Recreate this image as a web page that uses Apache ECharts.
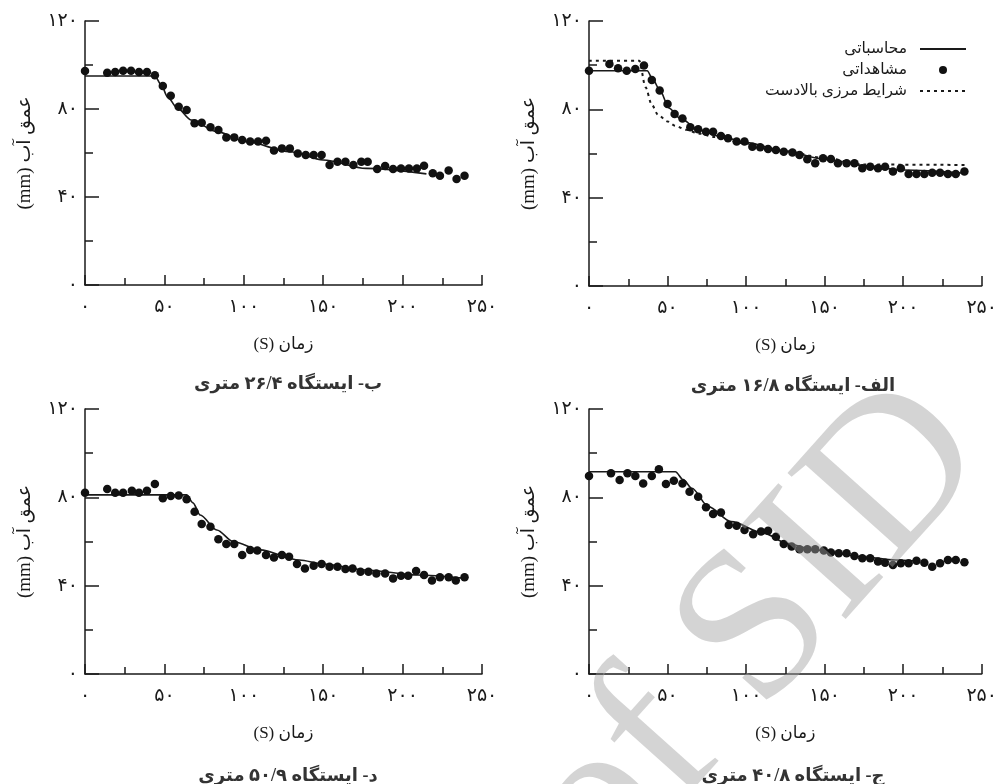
<!DOCTYPE html>
<html lang="fa">
<head>
<meta charset="UTF-8">
<title>عمق آب</title>
<script src="https://cdn.jsdelivr.net/npm/echarts@6/dist/echarts.min.js"></script>
</head>
<body style="margin:0;background:#fff">
<div id="main" style="width:1000px;height:784px"></div>
<script>
// tick labels (Persian digits)
let xTickLabels = ['۰', '۵۰', '۱۰۰', '۱۵۰', '۲۰۰', '۲۵۰'];
let yTickLabels = ['۰', '۴۰', '۸۰', '۱۲۰'];
let legendNames = ['محاسباتی', 'مشاهداتی', 'شرایط مرزی بالادست'];
let panelNames = ['ب- ایستگاه ۲۶/۴ متری', 'الف- ایستگاه ۱۶/۸ متری', 'د- ایستگاه ۵۰/۹ متری', 'ج- ایستگاه ۴۰/۸ متری'];

// ب - station 26.4 m
let obsT_B = [0,14,19,24,29,34,39,44,49,54,59,64,69,73.5,79,84,89,94,99,104,109,114,119,124,129,134,139,144,149,154,159,164,169,174,178,184,189,194,199,204,209,213.5,219,223.5,229,234,239];
let obsD_B = [97.3,96.5,96.8,97.4,97.4,96.8,96.8,95.3,90.5,86,81,79.5,73.5,73.8,71.7,70.5,67.1,67.1,65.9,65.2,65.2,65.6,61.1,62.1,62.1,59.8,59.1,59.1,59.1,54.5,56,56,54.5,56,56,52.7,54.1,52.7,53,53,53,54.2,50.8,49.7,52,48.2,49.7];
let simT_B = [0,44,48,52,58,67,83,101,129,150,177,215];
let simD_B = [95,95,91,85.5,80.5,75,69.7,65.2,60.6,56.8,53,50.5];

// الف - station 16.8 m
let obsT_A = [0,13,18.5,24,29.5,35,40,45,50,54.5,59.5,64.5,69.5,74.5,79,84,88.5,94,99,104,109,114,119,124,129.5,134,139,144,149,154,158.5,164,169,174,179,184,188.5,193.5,198.5,203.5,208.5,213.5,218.5,223.5,228.5,233.5,239];
let obsD_A = [97.5,100.5,98.6,97.5,98.3,99.8,93.3,88.5,82.4,77.9,75.9,71.9,71,69.9,69.9,67.9,66.9,65.4,65.4,63.1,62.8,62,61.6,60.8,60.4,59.3,57.4,55.6,57.8,57.5,55.6,55.6,55.6,53.3,54,53.3,54,51.8,53.3,50.7,50.7,50.7,51.3,51.3,50.7,50.7,51.8];
let simT_A = [0,37,41,45,51,58,70,85,100,125,150,175,200,240];
let simD_A = [97.5,97.5,93,88.8,80.5,75.9,70.7,67.5,65,61,57.5,54.5,52.5,51];
let bcT_A = [0,32,36,40,44,50,55,62,70,80,100,125,150,175,240];
let bcD_A = [102,102,90,82,77.5,74.5,72.5,70.7,69,67.5,64.5,61,58,55,54.8];

// د - station 50.9 m
let obsT_D = [0,14,19,24,29.5,34,39,44,49,54,59,64,69,73.5,79,84,89,94,99,104,108.5,114,119,124,128.5,133.5,138.5,144,149,154,159,164,168.5,173.5,178.5,183.5,189,194,199,203.5,208.5,213.5,218.5,223.5,229,233.5,239];
let obsD_D = [82.1,83.8,82.1,82.1,83,82.1,83,86,79.6,80.6,80.8,79.1,73.5,67.9,66.7,61,58.9,58.9,53.9,56.2,55.9,53.9,52.8,53.9,53.1,49.8,47.8,49,49.8,48.6,48.6,47.6,47.8,46.3,46.3,45.5,45.5,43.3,44.5,44.5,46.6,44.8,42.3,43.8,43.8,42.3,43.8];
let simT_D = [0,64,68,72.5,83,93.5,110,135,150,177,209,239];
let simD_D = [81.1,81.1,77.5,72,65.2,59.9,56.2,51.6,49.8,47.1,44.8,43.3];

// ج - station 40.8 m
let obsT_J = [0,14,19.5,24.5,29.5,34.5,40,44.5,49,54,59.5,64,69.5,74.5,79,84,89,94,99,104.5,109.5,114,119,124,129,134,139,144,149.5,154,159,164,169,174,179,184,188.5,193.5,198.5,203.5,208.5,213.5,218.5,223.5,228.5,233.5,239];
let obsD_J = [89.7,90.9,87.9,90.9,89.7,86.3,89.7,92.7,86,87.5,86.3,82.5,80.3,75.5,72.5,73.1,67.5,67.1,65.2,63.3,64.5,64.9,62.2,58.9,57.7,56.5,56.5,56.5,55.9,55,54.7,54.7,53.4,52.4,52.4,50.9,50.4,49.4,50.1,50.1,51.3,50.4,48.6,50.1,51.6,51.6,50.6];
let simT_J = [0,55,60,65.5,76,90.5,111.5,126,143,174,195,208];
let simD_J = [91.6,91.6,88,84.1,75.8,69,63.7,59.2,56.2,53.1,51.6,51.2];

function pairs(t, d) {
    return t.map(function (v, i) { return [v, d[i]]; });
}

let ink = '#1a1a1a';
let fontFam = '"Liberation Serif", "DejaVu Sans", serif';

let grids = [
    {left: 85, top: 21, width: 397, height: 264},
    {left: 589, top: 21, width: 398, height: 265},
    {left: 85, top: 409, width: 397, height: 265},
    {left: 589, top: 409, width: 398, height: 265}
];

function makeX(i) {
    return {
        gridIndex: i, type: 'value', min: 0, max: 250, interval: 50,
        name: '(S) زمان', nameLocation: 'middle', nameGap: 51,
        nameTextStyle: {fontSize: 17, color: ink, fontFamily: fontFam},
        axisLine: {lineStyle: {color: ink, width: 1.5}},
        axisTick: {inside: true, length: 10, lineStyle: {color: ink, width: 1.5}},
        minorTick: {show: true, splitNumber: 2, length: 7, lineStyle: {color: ink, width: 1.5}},
        splitLine: {show: false},
        axisLabel: {margin: 13, fontSize: 19, color: ink, fontFamily: fontFam,
            formatter: function (v) { return xTickLabels[Math.round(v / 50)]; }}
    };
}

function makeY(i) {
    return {
        gridIndex: i, type: 'value', min: 0, max: 120, interval: 40,
        name: '(mm) عمق آب', nameLocation: 'middle', nameGap: 50,
        nameTextStyle: {fontSize: 19, color: ink, fontFamily: fontFam},
        axisLine: {lineStyle: {color: ink, width: 1.5}},
        axisTick: {inside: true, length: 14, lineStyle: {color: ink, width: 1.5}},
        minorTick: {show: true, splitNumber: 2, length: 8, lineStyle: {color: ink, width: 1.5}},
        splitLine: {show: false},
        axisLabel: {margin: 7, fontSize: 19, color: ink, fontFamily: fontFam,
            formatter: function (v) { return yTickLabels[Math.round(v / 40)]; }}
    };
}

function simLine(i, t, d) {
    return {
        name: legendNames[0], type: 'line', xAxisIndex: i, yAxisIndex: i,
        data: pairs(t, d), symbol: 'none', smooth: 0.3, smoothMonotone: 'x',
        lineStyle: {color: ink, width: 1.6}, itemStyle: {color: ink}, z: 3
    };
}

function obsPts(i, t, d) {
    return {
        name: legendNames[1], type: 'scatter', xAxisIndex: i, yAxisIndex: i,
        data: pairs(t, d), symbol: 'circle', symbolSize: 8.5,
        itemStyle: {color: '#111', opacity: 1}, z: 4
    };
}

let myChart = echarts.init(document.getElementById('main'), null, {renderer: 'canvas'});

let capPos = [[283, 370], [788, 372], [283, 762], [788, 762]];
let noDot = {color: 'rgba(0,0,0,0)', borderWidth: 0};

let option = {
    backgroundColor: '#fff',
    animation: false,
    title: panelNames.map(function (n, i) {
        return {
            text: n, left: capPos[i][0], top: capPos[i][1], textAlign: 'center',
            textStyle: {fontSize: 18, fontWeight: 'bold', color: '#333', fontFamily: fontFam}
        };
    }),
    legend: {
        data: [
            {name: legendNames[0], itemStyle: noDot},
            {name: legendNames[1], icon: 'circle'},
            {name: legendNames[2], itemStyle: noDot}
        ],
        orient: 'vertical', align: 'right',
        right: 28, top: 36, itemWidth: 46, itemHeight: 8, itemGap: 5,
        selectedMode: false,
        textStyle: {fontSize: 15.5, color: ink, fontFamily: fontFam, lineHeight: 15, padding: [0, 8, 0, 0]}
    },
    grid: grids,
    xAxis: [0, 1, 2, 3].map(makeX),
    yAxis: [0, 1, 2, 3].map(makeY),
    series: [
        simLine(0, simT_B, simD_B),
        obsPts(0, obsT_B, obsD_B),
        simLine(1, simT_A, simD_A),
        obsPts(1, obsT_A, obsD_A),
        {
            name: legendNames[2], type: 'line', xAxisIndex: 1, yAxisIndex: 1,
            data: pairs(bcT_A, bcD_A), symbol: 'none', smooth: 0.3, smoothMonotone: 'x',
            lineStyle: {color: ink, width: 2, type: [3, 4]}, itemStyle: {color: ink}, z: 2
        },
        simLine(2, simT_D, simD_D),
        obsPts(2, obsT_D, obsD_D),
        simLine(3, simT_J, simD_J),
        obsPts(3, obsT_J, obsD_J)
    ],
    // watermark seen on the scanned page
    graphic: [{
        type: 'text', z: 100, silent: true,
        x: 1030, y: 490, rotation: 0.84,
        style: {
            text: 'Archive of SID', font: '215px "Liberation Serif"',
            fill: 'rgba(160,160,160,0.45)', align: 'right', verticalAlign: 'bottom'
        }
    }]
};

myChart.setOption(option);
</script>
</body>
</html>
